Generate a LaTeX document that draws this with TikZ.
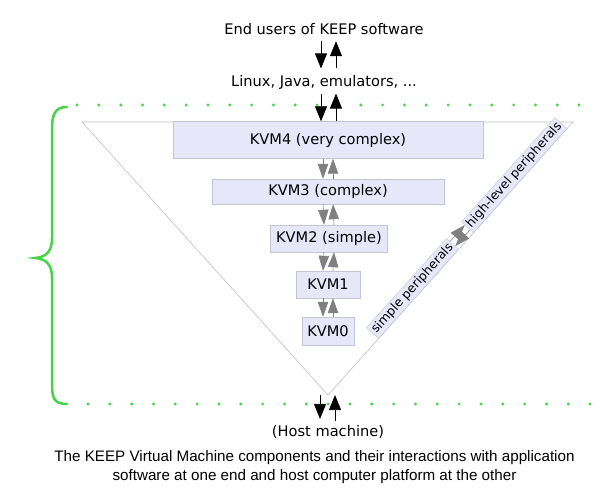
\documentclass[tikz,border=0pt]{standalone}
\usepackage{fontspec}
\setmainfont{DejaVu Sans}
\newfontfamily\capfont{Liberation Sans}
\usetikzlibrary{arrows.meta,calc,positioning}

\definecolor{kgreen}{RGB}{70,212,70}
\definecolor{kvmfill}{RGB}{231,231,250}
\definecolor{kvmline}{RGB}{196,196,212}
\definecolor{tria}{RGB}{190,190,190}

\tikzset{
  kvm/.style={draw=kvmline, fill=kvmfill, inner sep=0pt, font=\fontsize{14.6}{17}\selectfont},
  lbl/.style={font=\fontsize{14.6}{17}\selectfont},
  perif/.style={draw=kvmline, fill=kvmfill, inner sep=2pt, rotate=48.1, anchor=south,
    font=\fontsize{12.5}{14}\selectfont},
  blkarr/.style={-{Triangle[length=15pt,width=12pt]}, black, line width=0.7pt},
  grarr/.style={-{Triangle[length=15pt,width=10.5pt]}, gray, line width=0.6pt},
}

\begin{document}
\begin{tikzpicture}[x=1pt,y=-1pt]
\useasboundingbox (0,0) rectangle (616,500);

% dotted borders and brace
\foreach \i in {0,...,23} {
  \fill[kgreen] (77+\i*21.83,105) circle (1.6);
  \fill[kgreen] (88+\i*21.83,404) circle (1.6);
}
\draw[kgreen, line width=2.5pt, line cap=round]
  (67,107) .. controls (54,107) and (52,116) .. (52,130) -- (52,238)
  .. controls (52,252) and (46,257) .. (35,258)
  .. controls (46,259) and (52,264) .. (52,278) -- (52,384)
  .. controls (52,398) and (54,404) .. (67,404);

% triangle
\coordinate (apex) at (328,395);
\coordinate (tl) at (82,122);
\coordinate (tr) at (573,122);
\draw[tria, line width=0.6pt] (tl) -- (tr) -- (apex) -- cycle;

% text at top and bottom
\node[lbl] (users) at (324,29) {End users of KEEP software};
\node[lbl] (linux) at (324,82) {Linux, Java, emulators, ...};
\node[lbl] (host) at (328,432) {(Host machine)};
\node[font=\capfont\fontsize{15.2}{19}\selectfont, align=center] (caption) at (314.5,467.5)
  {The KEEP Virtual Machine components and their interactions with application\\
   software at one end and host computer platform at the other};

% KVM stack
\node[kvm, minimum width=310, minimum height=37] (kvm4) at (328,140) {KVM4 (very complex)};
\node[kvm, minimum width=232, minimum height=25] (kvm3) at (328,191.5) {KVM3 (complex)};
\node[kvm, minimum width=117, minimum height=27] (kvm2) at (329,238.5) {KVM2 (simple)};
\node[kvm, minimum width=64, minimum height=27] (kvm1) at (328,284.5) {KVM1};
\node[kvm, minimum width=52, minimum height=28] (kvm0) at (328,331) {KVM0};

% peripherals along the right edge
\path (apex) -- (tr)
  node[perif, pos=0.37] (simple) {simple peripherals}
  node[perif, pos=0.785] (high) {high-level peripherals};

% black arrows
\draw[blkarr, shorten <=3pt, shorten >=3pt] ([xshift=-3pt]users.south) -- ([xshift=-3pt]linux.north);
\draw[blkarr, shorten <=3pt, shorten >=3pt] ([xshift=12pt]linux.north) -- ([xshift=12pt]users.south);
\draw[blkarr, shorten <=1pt] ([xshift=-3pt]linux.south) -- ([xshift=-7pt]kvm4.north);
\draw[blkarr, shorten >=1pt] ([xshift=8pt]kvm4.north) -- ([xshift=12pt]linux.south);
\draw[blkarr, shorten >=3pt] ([xshift=-8pt]apex) -- ([xshift=-8pt]host.north);
\draw[blkarr, shorten <=1pt] ([xshift=7pt]host.north) -- ([xshift=7pt]apex);

% grey arrows
\foreach \a/\b in {kvm4/kvm3, kvm3/kvm2, kvm2/kvm1, kvm1/kvm0} {
  \draw[grarr] ([xshift=-5pt]\a.south) -- ([xshift=-5pt]\b.north);
  \draw[grarr] ([xshift=5pt]\b.north) -- ([xshift=5pt]\a.south);
}
\draw[grarr] ($(high.west)!3.5pt!90:(simple.east)$) -- ($(simple.east)!3.5pt!-90:(high.west)$);
\draw[grarr] ($(simple.east)!3.5pt!90:(high.west)$) -- ($(high.west)!3.5pt!-90:(simple.east)$);
\end{tikzpicture}
\end{document}
